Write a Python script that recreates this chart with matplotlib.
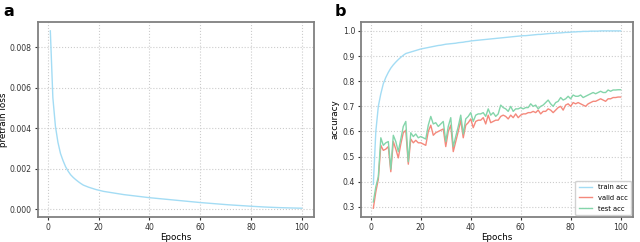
import matplotlib
matplotlib.use("Agg")
import matplotlib.pyplot as plt

epochs = list(range(1, 101))

pretrain_loss = [
    0.0088, 0.0055, 0.0041, 0.0033, 0.00275, 0.0024, 0.0021, 0.00188, 0.0017, 0.00157,
    0.00146, 0.00136, 0.00127, 0.00119, 0.00114, 0.00109, 0.00105, 0.00101, 0.00097, 0.00094,
    0.00091, 0.00088, 0.00086, 0.00084, 0.00082, 0.0008, 0.00078, 0.00076, 0.00074, 0.00072,
    0.000705, 0.00069, 0.000675, 0.00066, 0.000645, 0.00063, 0.000615, 0.0006, 0.000585, 0.00057,
    0.000558, 0.000546, 0.000534, 0.000522, 0.00051, 0.000498, 0.000486, 0.000474, 0.000462, 0.00045,
    0.000438, 0.000426, 0.000414, 0.000402, 0.00039, 0.000378, 0.000366, 0.000354, 0.000342, 0.00033,
    0.00032, 0.00031, 0.0003, 0.00029, 0.00028, 0.00027, 0.00026, 0.00025, 0.00024, 0.00023,
    0.00022, 0.000212, 0.000204, 0.000196, 0.000188, 0.00018, 0.000172, 0.000164, 0.000156, 0.000148,
    0.00014, 0.000133, 0.000126, 0.000119, 0.000112, 0.000106, 0.0001, 0.000095, 0.00009, 0.000085,
    0.00008, 0.000076, 0.000072, 0.000068, 0.000065, 0.000062, 0.000059, 0.000056, 0.000053, 0.00005,
]

train_acc = [
    0.39, 0.60, 0.70, 0.75, 0.79, 0.815, 0.835, 0.852, 0.865, 0.876,
    0.886, 0.895, 0.903, 0.91, 0.913, 0.916, 0.919, 0.922, 0.925, 0.928,
    0.93, 0.932, 0.934, 0.936, 0.938, 0.94, 0.942, 0.943, 0.945, 0.947,
    0.948, 0.949, 0.95, 0.951, 0.953, 0.954, 0.955, 0.957, 0.958, 0.96,
    0.961, 0.962, 0.963, 0.964, 0.965, 0.966, 0.967, 0.968, 0.969, 0.97,
    0.971, 0.972, 0.973, 0.974, 0.975, 0.976, 0.977, 0.978, 0.979, 0.98,
    0.981, 0.981, 0.982, 0.983, 0.984, 0.985, 0.986, 0.986, 0.987, 0.988,
    0.989, 0.99, 0.99, 0.991, 0.992, 0.992, 0.993, 0.994, 0.994, 0.995,
    0.996, 0.996, 0.997, 0.997, 0.998, 0.998, 0.998, 0.999, 0.999, 0.999,
    0.999, 1.0, 1.0, 1.0, 1.0, 1.0, 1.0, 1.0, 1.0, 1.0,
]

valid_acc = [
    0.295, 0.36, 0.41, 0.545, 0.525, 0.53, 0.54, 0.44, 0.56, 0.53,
    0.495, 0.55, 0.595, 0.605, 0.47, 0.57, 0.555, 0.565, 0.555, 0.555,
    0.55, 0.545, 0.60, 0.625, 0.585, 0.595, 0.60, 0.605, 0.61, 0.54,
    0.60, 0.625, 0.52, 0.56, 0.60, 0.645, 0.575, 0.625, 0.635, 0.65,
    0.615, 0.64, 0.645, 0.645, 0.655, 0.63, 0.665, 0.635, 0.64, 0.645,
    0.645, 0.66, 0.665, 0.66, 0.65, 0.665, 0.655, 0.67, 0.655, 0.665,
    0.67, 0.67, 0.675, 0.675, 0.68, 0.675, 0.685, 0.67, 0.68, 0.68,
    0.69, 0.685, 0.675, 0.685, 0.695, 0.70, 0.685, 0.705, 0.71, 0.70,
    0.715, 0.71, 0.715, 0.71, 0.705, 0.70, 0.71, 0.715, 0.72, 0.72,
    0.725, 0.73, 0.725, 0.72, 0.73, 0.73, 0.735, 0.735, 0.737, 0.737,
]

test_acc = [
    0.32, 0.38, 0.42, 0.575, 0.545, 0.555, 0.56, 0.45, 0.585, 0.56,
    0.52, 0.57, 0.62, 0.64, 0.48, 0.595, 0.58, 0.59, 0.575, 0.58,
    0.575, 0.57, 0.625, 0.66, 0.63, 0.635, 0.62, 0.63, 0.64, 0.56,
    0.62, 0.655, 0.54, 0.58, 0.62, 0.665, 0.59, 0.65, 0.66, 0.675,
    0.64, 0.665, 0.67, 0.67, 0.675, 0.66, 0.69, 0.665, 0.675, 0.66,
    0.67, 0.705, 0.695, 0.69, 0.68, 0.70, 0.68, 0.69, 0.69, 0.695,
    0.69, 0.695, 0.695, 0.71, 0.70, 0.705, 0.69, 0.70, 0.705, 0.715,
    0.725, 0.71, 0.70, 0.715, 0.72, 0.735, 0.725, 0.73, 0.74, 0.73,
    0.745, 0.74, 0.74, 0.745, 0.735, 0.74, 0.745, 0.75, 0.755, 0.75,
    0.755, 0.76, 0.755, 0.755, 0.765, 0.76, 0.765, 0.765, 0.766, 0.766,
]

train_color = "#a3dcf4"
valid_color = "#f4897c"
test_color = "#84d5aa"

fig = plt.figure(figsize=(6.4, 2.42), dpi=100)
ax1 = fig.add_axes([0.059, 0.103, 0.432, 0.806])
ax2 = fig.add_axes([0.564, 0.103, 0.425, 0.806])

ax1.plot(epochs, pretrain_loss, color=train_color, lw=1.0)
ax1.set_xlabel("Epochs", fontsize=6.3, labelpad=1)
ax1.set_ylabel("pretrain loss", fontsize=6.3)
ax1.yaxis.set_label_coords(-0.108, 0.5)
ax1.set_yticks([0.0, 0.002, 0.004, 0.006, 0.008])

ax2.plot(epochs, train_acc, color=train_color, lw=1.0, label="train acc")
ax2.plot(epochs, valid_acc, color=valid_color, lw=1.0, label="valid acc")
ax2.plot(epochs, test_acc, color=test_color, lw=1.0, label="test acc")
ax2.set_xlabel("Epochs", fontsize=6.3, labelpad=1)
ax2.set_ylabel("accuracy", fontsize=6.3)
ax2.yaxis.set_label_coords(-0.08, 0.5)
ax2.legend(loc="lower right", fontsize=4.9, handlelength=1.9, handletextpad=0.9,
           borderpad=0.5, labelspacing=0.7, borderaxespad=0.3, framealpha=0.9)

for ax in (ax1, ax2):
    ax.grid(True, linestyle=":", color="#cccccc", lw=0.8)
    ax.set_xticks([0, 20, 40, 60, 80, 100])
    ax.tick_params(labelsize=5.6, length=2.5, pad=1.8, colors="#333333")
    for s in ax.spines.values():
        s.set_color("#808080")
        s.set_linewidth(1.3)

fig.text(0.006, 0.952, "a", fontsize=11.5, fontweight="bold", va="center")
fig.text(0.523, 0.952, "b", fontsize=11.5, fontweight="bold", va="center")

fig.savefig("out.png", dpi=100)
